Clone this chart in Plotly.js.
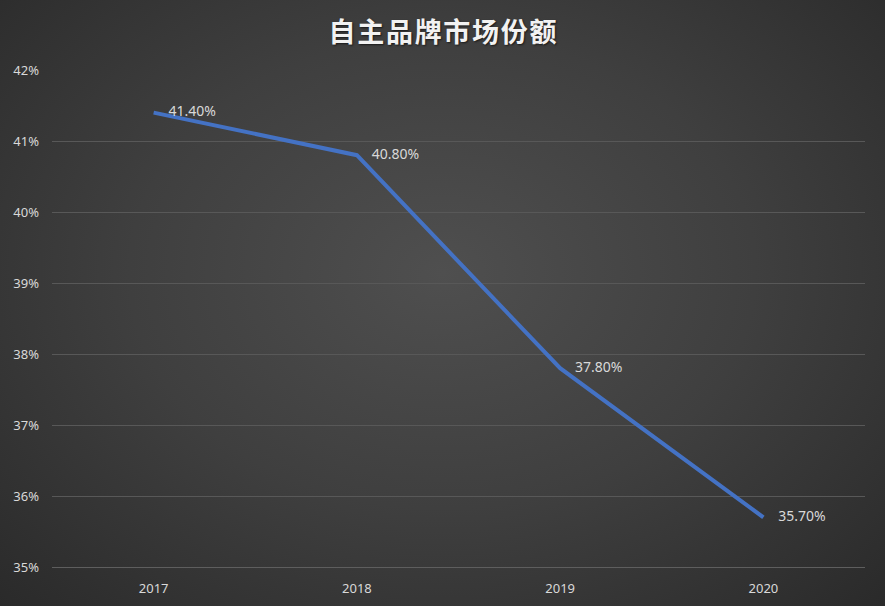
<!DOCTYPE html>
<html>
<head>
<meta charset="utf-8">
<script src="https://cdn.plot.ly/plotly-3.0.1.min.js"></script>
<style>
html,body{margin:0;padding:0;width:885px;height:606px;overflow:hidden;}
#chart{width:885px;height:606px;background:radial-gradient(ellipse at 50% 45%, #4f4f4f 0%, #3f3f3f 50%, #2a2a2a 100%);}
</style>
</head>
<body>
<div id="chart"></div>
<script>
const years = ['2017', '2018', '2019', '2020'];
const share = [41.4, 40.8, 37.8, 35.7];
const labels = share.map(v => v.toFixed(2) + '%');
const yTicks = [35, 36, 37, 38, 39, 40, 41, 42];
const titleText = '自主品牌市场份额';

const trace = {
  x: years,
  y: share,
  type: 'scatter',
  mode: 'lines+markers+text',
  line: {color: '#4472C4', width: 4},
  marker: {size: 22, color: 'rgba(0,0,0,0)', line: {width: 0}},
  text: labels,
  textposition: 'middle right',
  textfont: {family: 'Noto Sans, sans-serif', size: 14, color: '#d9d9d9'},
  cliponaxis: false,
  hoverinfo: 'skip'
};

const layout = {
  width: 885,
  height: 606,
  paper_bgcolor: 'rgba(0,0,0,0)',
  plot_bgcolor: 'rgba(0,0,0,0)',
  margin: {l: 52, r: 20, t: 70, b: 39},
  showlegend: false,
  title: {
    text: '<b>' + titleText.split('').join('\u200A') + '</b>',
    x: 0.5, xanchor: 'center',
    y: 0.947, yanchor: 'middle',
    font: {family: 'Noto Sans CJK SC, sans-serif', size: 27, color: '#f2f2f2',
           shadow: '1px 1px 2px rgba(0,0,0,0.6)'}
  },
  xaxis: {
    type: 'category',
    showgrid: false,
    zeroline: false,
    showline: true,
    linecolor: '#5e5e5e',
    linewidth: 1,
    ticks: '',
    ticklabelstandoff: 9,
    tickfont: {family: 'Noto Sans, sans-serif', size: 13, color: '#d9d9d9'},
    range: [-0.5, 3.5]
  },
  yaxis: {
    range: [35, 42],
    tickvals: yTicks,
    ticktext: yTicks.map(v => v + '%'),
    showgrid: true,
    gridcolor: '#585858',
    gridwidth: 1,
    zeroline: false,
    showline: false,
    ticks: '',
    ticklabelstandoff: 12,
    tickfont: {family: 'Noto Sans, sans-serif', size: 13, color: '#d9d9d9'}
  }
};

Plotly.newPlot('chart', [trace], layout, {displayModeBar: false, staticPlot: true});
</script>
</body>
</html>
